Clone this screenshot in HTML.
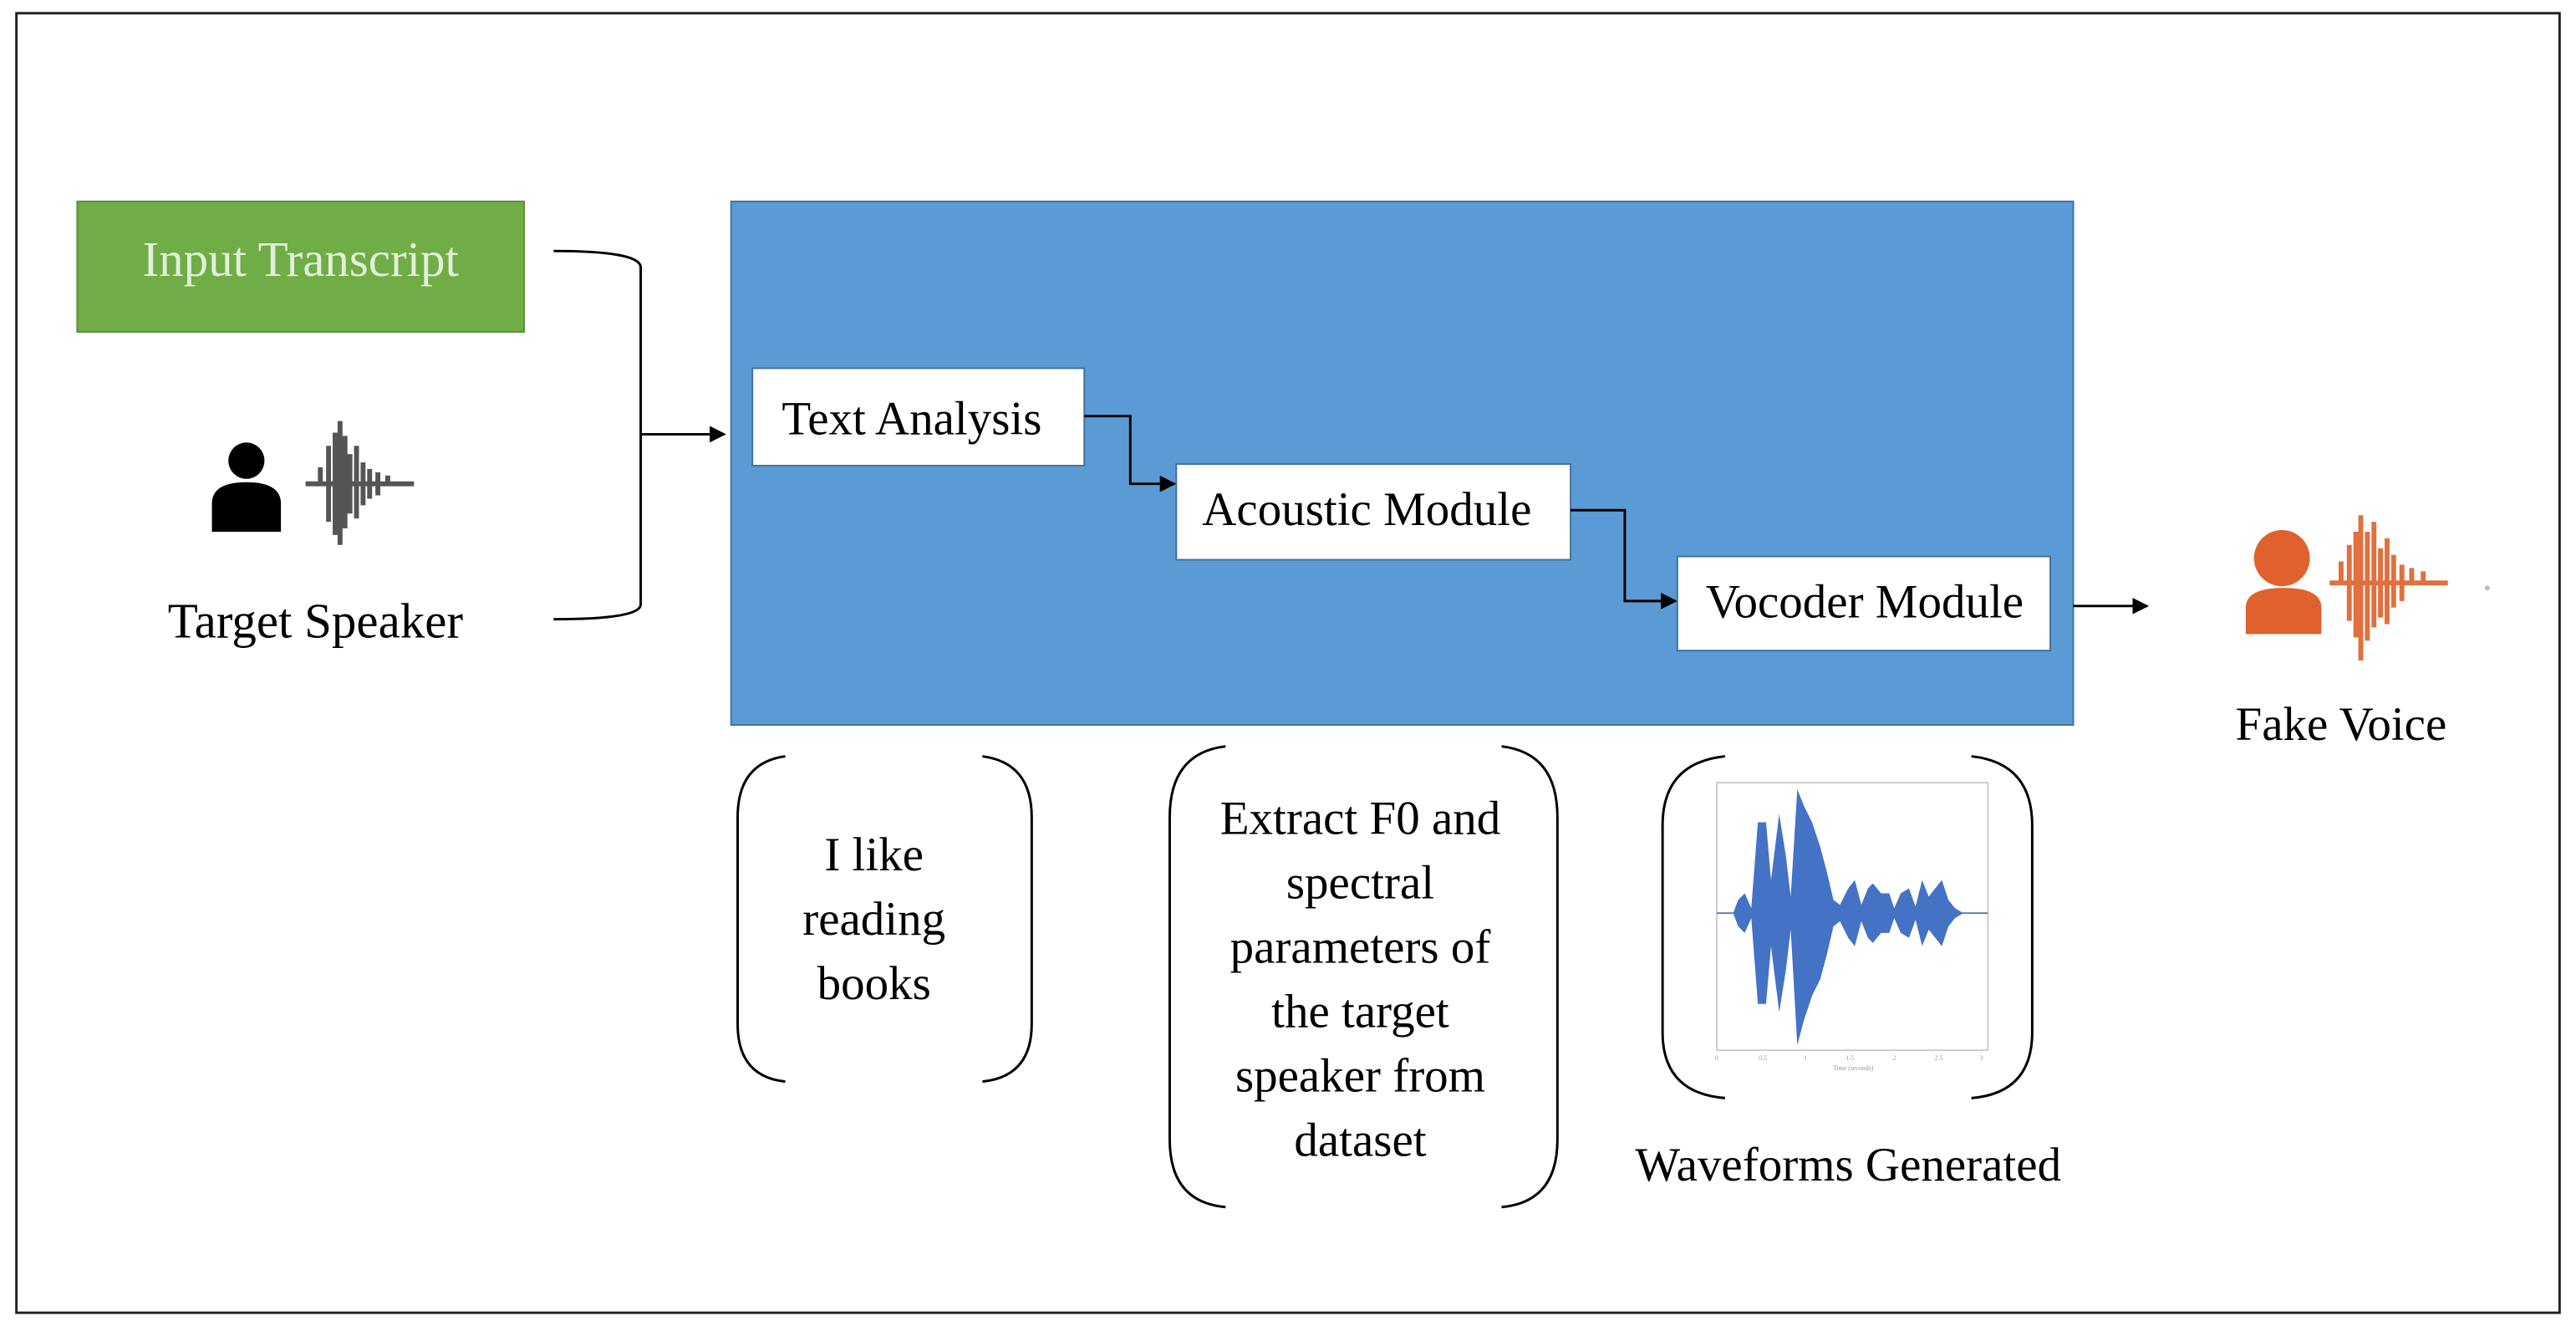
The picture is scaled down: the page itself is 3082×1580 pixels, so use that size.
<!DOCTYPE html>
<html><head><meta charset="utf-8"><style>
html,body{margin:0;padding:0;background:#fff;}
svg{display:block;}
text{font-family:"Liberation Serif",serif;}
</style></head><body>
<svg width="3082" height="1580" viewBox="0 0 1568 800" preserveAspectRatio="none" xmlns="http://www.w3.org/2000/svg">
<defs><marker id="ah" markerWidth="10" markerHeight="10" refX="9" refY="5" orient="auto" markerUnits="userSpaceOnUse"><path d="M0,0 L10,5 L0,10 z" fill="#000"/></marker></defs>
<rect x="0" y="0" width="1568" height="800" fill="#fff"/>
<rect x="10" y="8" width="1548" height="787" fill="none" stroke="#222" stroke-width="1.5"/>
<rect x="47" y="122" width="272" height="79" fill="#70ad47" stroke="#5a8f3a" stroke-width="1"/>
<text x="183" y="167" font-size="30" fill="#e2f0d9" text-anchor="middle">Input Transcript</text>
<circle cx="150" cy="279" r="11" fill="#000"/>
<path d="M129,322 L129,305 Q129,292 150,292 Q171,292 171,305 L171,322 Z" fill="#000"/>
<path d="M186,293 L252,293 M195,293 L195,283 M200,293 L200,270 M204,293 L204,262 M207,293 L207,255 M210,293 L210,264 M213,293 L213,275 M217,293 L217,270 M221,293 L221,280 M225,293 L225,284 M230,293 L230,286 M236,293 L236,288 M200,293 L200,316 M204,293 L204,324 M207,293 L207,330 M210,293 L210,320 M213,293 L213,311 M217,293 L217,314 M221,293 L221,306 M225,293 L225,302 M230,293 L230,300" stroke="#555" stroke-width="3"/>
<text x="192" y="386" font-size="30" fill="#000" text-anchor="middle">Target Speaker</text>
<path d="M337,152 Q390,152 390,162 L390,366 Q390,375 337,375" fill="none" stroke="#000" stroke-width="1.5"/>
<line x1="390" y1="263" x2="441" y2="263" stroke="#000" stroke-width="1.5" marker-end="url(#ah)"/>
<rect x="445" y="122" width="817" height="317" fill="#5b9bd5" stroke="#41719c" stroke-width="1"/>
<rect x="458" y="223" width="202" height="59" fill="#fff" stroke="#41719c" stroke-width="1"/>
<text x="555" y="263" font-size="29" text-anchor="middle">Text Analysis</text>
<path d="M660,252 L688,252 L688,293 L715,293" fill="none" stroke="#000" stroke-width="1.5" marker-end="url(#ah)"/>
<rect x="716" y="281" width="240" height="58" fill="#fff" stroke="#41719c" stroke-width="1"/>
<text x="832" y="318" font-size="29" text-anchor="middle">Acoustic Module</text>
<path d="M956,309 L989,309 L989,364 L1020,364" fill="none" stroke="#000" stroke-width="1.5" marker-end="url(#ah)"/>
<rect x="1021" y="337" width="227" height="57" fill="#fff" stroke="#41719c" stroke-width="1"/>
<text x="1135" y="374" font-size="29" text-anchor="middle">Vocoder Module</text>
<line x1="1262" y1="367" x2="1307" y2="367" stroke="#000" stroke-width="1.5" marker-end="url(#ah)"/>
<circle cx="1389" cy="338" r="17" fill="#e0602e"/>
<path d="M1367,384 L1367,368 Q1367,356 1390,356 Q1413,356 1413,368 L1413,384 Z" fill="#e0602e"/>
<path d="M1418,353 L1490,353 M1425,353 L1425,340 M1430,353 L1430,330 M1434,353 L1434,322 M1437,353 L1437,312 M1441,353 L1441,322 M1445,353 L1445,316 M1449,353 L1449,332 M1453,353 L1453,326 M1457,353 L1457,336 M1462,353 L1462,342 M1468,353 L1468,344 M1475,353 L1475,346 M1430,353 L1430,376 M1434,353 L1434,386 M1437,353 L1437,400 M1441,353 L1441,388 M1445,353 L1445,380 M1449,353 L1449,374 M1453,353 L1453,378 M1457,353 L1457,368 M1462,353 L1462,364" stroke="#e0703e" stroke-width="3"/>
<circle cx="1514" cy="356" r="1.5" fill="#bbb"/>
<text x="1425" y="448" font-size="29" text-anchor="middle">Fake Voice</text>
<g fill="none" stroke="#000" stroke-width="1.5">
<path d="M478,458 Q449,462 449,495 L449,620 Q449,652 478,655"/>
<path d="M598,458 Q628,462 628,495 L628,620 Q628,652 598,655"/>
<path d="M746,452 Q712,456 712,495 L712,690 Q712,728 746,731"/>
<path d="M914,452 Q948,456 948,495 L948,690 Q948,728 914,731"/>
<path d="M1050,458 Q1012,462 1012,500 L1012,625 Q1012,662 1050,665"/>
<path d="M1200,458 Q1237,462 1237,500 L1237,625 Q1237,662 1200,665"/>
</g>
<g font-size="29" text-anchor="middle">
<text x="532" y="527">I like</text>
<text x="532" y="566">reading</text>
<text x="532" y="605">books</text>
<text x="828" y="505">Extract F0 and</text>
<text x="828" y="544">spectral</text>
<text x="828" y="583">parameters of</text>
<text x="828" y="622">the target</text>
<text x="828" y="661">speaker from</text>
<text x="828" y="700">dataset</text>
<text x="1125" y="715">Waveforms Generated</text>
</g>
<rect x="1045" y="474" width="165" height="162" fill="none" stroke="#ccc" stroke-width="1"/>
<line x1="1045" y1="553" x2="1210" y2="553" stroke="#5577bb" stroke-width="1"/>
<path d="M1055,553 L1058,545 L1062,541 L1066,550 L1070,498 L1075,498 L1078,533 L1083,493 L1087,518 L1090,543 L1094,478 L1098,488 L1103,498 L1108,513 L1112,528 L1116,545 L1120,548 L1125,538 L1129,533 L1133,548 L1137,538 L1140,535 L1145,541 L1150,541 L1153,550 L1157,541 L1162,538 L1166,549 L1170,533 L1174,543 L1178,538 L1182,533 L1186,545 L1190,550 L1195,553 L1190,556 L1186,561 L1182,573 L1178,568 L1174,563 L1170,573 L1166,557 L1162,568 L1157,565 L1153,556 L1150,565 L1145,565 L1140,571 L1137,568 L1133,558 L1129,573 L1125,568 L1120,558 L1116,561 L1112,578 L1108,593 L1103,603 L1098,618 L1094,633 L1090,563 L1087,588 L1083,613 L1078,573 L1075,608 L1070,608 L1066,556 L1062,565 L1058,561 Z" fill="#4472c4"/>
<g font-size="4" fill="#999" font-family="Liberation Sans,sans-serif" text-anchor="middle">
<text x="1045" y="642">0</text><text x="1073" y="642">0.5</text><text x="1099" y="642">1</text><text x="1126" y="642">1.5</text><text x="1153" y="642">2</text><text x="1180" y="642">2.5</text><text x="1206" y="642">3</text>
<text x="1128" y="648">Time (seconds)</text>
</g>
</svg>
</body></html>
